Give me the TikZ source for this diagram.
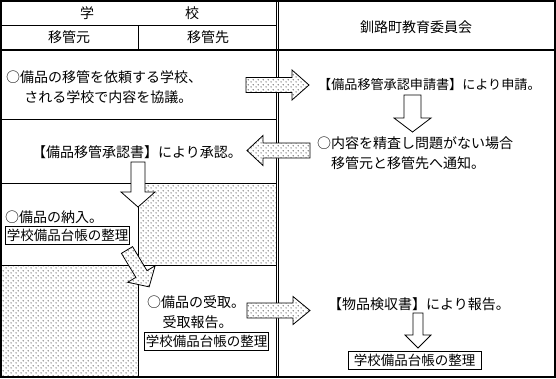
\documentclass[tikz,border=0pt]{standalone}
\usepackage{fontspec}
\setmainfont{Noto Sans CJK JP}
\usetikzlibrary{patterns.meta}

\tikzdeclarepattern{
  name=stipple,
  type=uncolored,
  bounding box={(0pt,0pt) and (5pt,5pt)},
  tile size={(5pt,5pt)},
  code={
    \fill (1.25pt,1.25pt) circle[radius=0.65pt];
    \fill (3.75pt,3.75pt) circle[radius=0.65pt];
  }
}

% block arrow: style, start, angle, length, body half, head half, head length
\newcommand{\bigarrow}[7]{%
  \draw[#1,shift={#2},rotate=#3]
    (0,-#5) -- (#4-#7,-#5) -- (#4-#7,-#6) -- (#4,0)
    -- (#4-#7,#6) -- (#4-#7,#5) -- (0,#5) -- cycle;
}

\begin{document}
\begin{tikzpicture}[x=1pt,y=-1pt,
  frame/.style={black,line width=1.5pt},
  rule/.style={black,line width=0.8pt},
  dotted area/.style={pattern={stipple},pattern color=black},
  dotarrow/.style={black,line width=0.8pt,preaction={fill=white},
    pattern={stipple},pattern color=black},
  whitearrow/.style={black,line width=0.8pt,fill=white},
  hdr/.style={font=\fontsize{14}{20}\selectfont,inner sep=0pt},
  lbl/.style={font=\fontsize{14}{20}\selectfont,inner sep=0pt,
    anchor=west,align=left},
  ledger/.style={draw,line width=0.8pt,font=\fontsize{13.5}{16}\selectfont,
    inner sep=1.5pt,minimum height=18pt}]
  \useasboundingbox (0,0) rectangle (556,378);

  % stippled parts of the school side
  \fill[dotted area] (138.5,183) rectangle (276,265);
  \fill[dotted area] (1,265) rectangle (138.5,377);

  % table rules
  \draw[rule] (1,25) -- (276,25);
  \draw[rule] (138,25) -- (138,50);
  \draw[frame] (1,50) -- (555,50);
  \draw[rule] (1,119) -- (276,119);
  \draw[rule] (1,183) -- (276,183);
  \draw[rule] (1,265) -- (276,265);
  \draw[rule] (138.5,183) -- (138.5,377);
  \draw[rule] (276,1) -- (276,377);
  \draw[rule] (278.6,1) -- (278.6,377);
  \draw[frame] (1,1) rectangle (555,377);

  % headings
  \node[hdr] (gakko) at (139.5,13) {学\hspace{91pt}校};
  \node[hdr] (motohdr) at (69,37.5) {移管元};
  \node[hdr] (sakihdr) at (208,37.5) {移管先};
  \node[hdr] (iinkai) at (416,27) {釧路町教育委員会};

  % school side
  \node[lbl] (kyogi) at (6,87)
    {○備品の移管を依頼する学校、\\\hspace*{1.3em}される学校で内容を協議。};
  \node[lbl] (shonin) at (32,152) {【備品移管承認書】により承認。};
  \node[lbl] (nonyu) at (5,217) {○備品の納入。};
  \node[ledger] (daicho1) at (67.5,235) {学校備品台帳の整理};
  \node[lbl] (ukeke) at (147,312)
    {○備品の受取。\\\hspace*{1.1em}受取報告。};
  \node[ledger] (daicho2) at (206.5,341) {学校備品台帳の整理};

  % board side
  \node[lbl,font=\fontsize{13.1}{20}\selectfont] (shinsei) at (318,85)
    {【備品移管承認申請書】により申請。};
  \node[lbl] (tsuchi) at (317,153)
    {○内容を精査し問題がない場合\\\hspace*{1em}移管元と移管先へ通知。};
  \node[lbl] (kenshu) at (328,304) {【物品検収書】により報告。};
  \node[ledger,minimum width=133pt] (daicho3) at (414.5,360.5)
    {学校備品台帳の整理};

  % arrows
  \bigarrow{dotarrow}{(246,85)}{0}{63}{7.5}{15}{17}
  \bigarrow{dotarrow}{(310,150.5)}{180}{63}{7.5}{15}{16}
  \bigarrow{dotarrow}{(247,310.5)}{0}{63}{7.5}{14}{17}
  \bigarrow{dotarrow}{(127,250)}{-59}{43}{6.5}{16}{15}
  \bigarrow{whitearrow}{(412.5,95)}{-90}{37}{8.5}{18.5}{14}
  \bigarrow{whitearrow}{(138,162)}{-90}{45}{7}{17}{15}
  \bigarrow{whitearrow}{(418,313)}{-90}{35}{5}{13}{13}
\end{tikzpicture}
\end{document}
